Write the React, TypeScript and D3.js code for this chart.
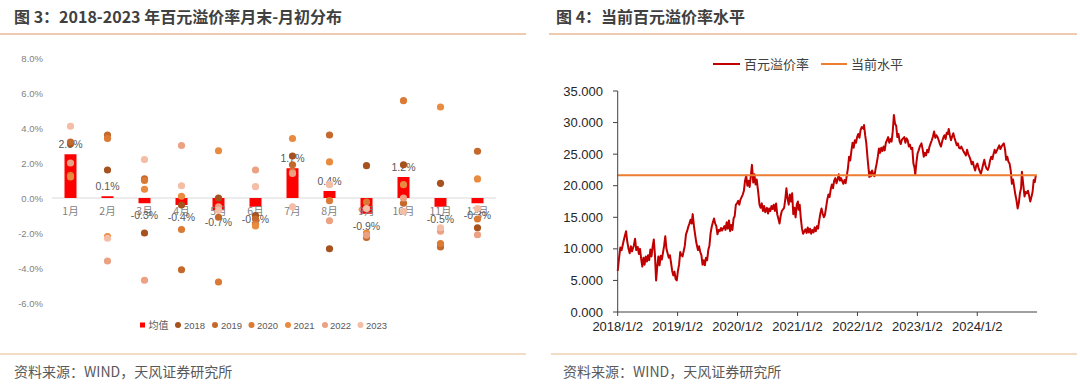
import React from "react";
import * as d3 from "d3";

// ---------- Left chart data ----------
const months = ["1月", "2月", "3月", "4月", "5月", "6月", "7月", "8月", "9月", "10月", "11月", "12月"];
const meanValues = [2.5, 0.1, -0.3, -0.4, -0.7, -0.5, 1.7, 0.4, -0.9, 1.2, -0.5, -0.3];
const years = ["2018", "2019", "2020", "2021", "2022", "2023"];
const y2018 = [3.1, 1.6, -2.0, -0.4, 0.0, -1.0, 2.4, -2.9, 1.85, 1.9, 0.84, -1.7];
const y2019 = [3.2, 3.6, 1.1, -4.1, -1.1, -1.2, 1.9, 3.6, -2.25, -0.3, -2.8, 2.67];
const y2020 = [1.3, 3.4, 1.0, -1.8, -4.8, -1.5, 1.5, -0.15, -0.23, 5.56, -2.6, -1.2];
const y2021 = [1.2, -2.2, 0.5, 0.1, 2.7, -1.6, 3.4, 2.06, -2.0, 0.76, 5.2, 1.09];
const y2022 = [2.0, -3.6, -4.7, 3.0, -0.5, 1.6, 1.4, -1.3, -2.13, 0.0, -1.9, -2.1];
const y2023 = [4.1, -2.3, 2.2, 0.7, -0.7, 0.65, -0.5, 0.76, -0.6, -0.76, -1.7, -0.6];
const yearSeries = [y2018, y2019, y2020, y2021, y2022, y2023];
const yearColors = ["#A5521F", "#C4682C", "#DB7A35", "#E98B3F", "#EBA182", "#F3BDA6"];
const leftTicks = [8, 6, 4, 2, 0, -2, -4, -6];

// ---------- Right chart data ----------
const premiumDates = [
  "2018-01-02","2018-01-10","2018-01-18","2018-01-26","2018-02-05","2018-02-12","2018-02-22","2018-03-01","2018-03-09","2018-03-16","2018-03-23","2018-03-30",
  "2018-04-10","2018-04-18","2018-04-25","2018-05-04","2018-05-11","2018-05-18","2018-05-25","2018-06-01","2018-06-08","2018-06-15","2018-06-22","2018-06-29",
  "2018-07-06","2018-07-13","2018-07-20","2018-07-27","2018-08-03","2018-08-10","2018-08-17","2018-08-24","2018-08-31","2018-09-07","2018-09-14","2018-09-21","2018-09-28",
  "2018-10-12","2018-10-19","2018-10-26","2018-11-02","2018-11-09","2018-11-16","2018-11-23","2018-11-30","2018-12-07","2018-12-14","2018-12-21","2018-12-28",
  "2019-01-04","2019-01-11","2019-01-18","2019-01-25","2019-02-01","2019-02-15","2019-02-22","2019-03-01","2019-03-08","2019-03-15","2019-03-22","2019-03-29",
  "2019-04-04","2019-04-12","2019-04-19","2019-04-26","2019-05-06","2019-05-13","2019-05-20","2019-05-27","2019-06-03","2019-06-10","2019-06-17","2019-06-24",
  "2019-07-01","2019-07-08","2019-07-15","2019-07-22","2019-07-29","2019-08-05","2019-08-12","2019-08-19","2019-08-26","2019-09-02","2019-09-09","2019-09-16","2019-09-23","2019-09-30",
  "2019-10-14","2019-10-21","2019-10-28","2019-11-04","2019-11-11","2019-11-18","2019-11-25","2019-12-02","2019-12-09","2019-12-16","2019-12-23","2019-12-30",
  "2020-01-06","2020-01-13","2020-01-20","2020-02-03","2020-02-10","2020-02-17","2020-02-24","2020-03-02","2020-03-09","2020-03-16","2020-03-23","2020-03-30",
  "2020-04-07","2020-04-14","2020-04-21","2020-04-28","2020-05-08","2020-05-15","2020-05-22","2020-05-29","2020-06-05","2020-06-12","2020-06-19","2020-06-29",
  "2020-07-06","2020-07-13","2020-07-20","2020-07-27","2020-08-03","2020-08-10","2020-08-17","2020-08-24","2020-08-31","2020-09-07","2020-09-14","2020-09-21","2020-09-28",
  "2020-10-12","2020-10-19","2020-10-26","2020-11-02","2020-11-09","2020-11-16","2020-11-23","2020-11-30","2020-12-07","2020-12-14","2020-12-21","2020-12-28",
  "2021-01-04","2021-01-08","2021-01-15","2021-01-22","2021-01-29","2021-02-05","2021-02-19","2021-02-26","2021-03-05","2021-03-12","2021-03-19","2021-03-26",
  "2021-04-02","2021-04-09","2021-04-16","2021-04-23","2021-04-30","2021-05-07","2021-05-14","2021-05-21","2021-05-28","2021-06-04","2021-06-11","2021-06-18","2021-06-25",
  "2021-07-02","2021-07-09","2021-07-16","2021-07-23","2021-07-30","2021-08-06","2021-08-13","2021-08-20","2021-08-27","2021-09-03","2021-09-10","2021-09-17","2021-09-24",
  "2021-10-08","2021-10-15","2021-10-22","2021-10-29","2021-11-05","2021-11-12","2021-11-19","2021-11-26","2021-12-03","2021-12-10","2021-12-17","2021-12-24","2021-12-31",
  "2022-01-07","2022-01-14","2022-01-21","2022-01-28","2022-02-08","2022-02-11","2022-02-18","2022-02-25","2022-03-04","2022-03-11","2022-03-15","2022-03-18","2022-03-25",
  "2022-04-01","2022-04-08","2022-04-15","2022-04-22","2022-04-29","2022-05-06","2022-05-13","2022-05-20","2022-05-27","2022-06-03","2022-06-10","2022-06-17","2022-06-24",
  "2022-07-01","2022-07-08","2022-07-15","2022-07-22","2022-07-29","2022-08-05","2022-08-12","2022-08-19","2022-08-26","2022-09-02","2022-09-09","2022-09-16","2022-09-23","2022-09-30",
  "2022-10-14","2022-10-21","2022-10-28","2022-11-04","2022-11-11","2022-11-18","2022-11-25","2022-12-02","2022-12-09","2022-12-16","2022-12-20","2022-12-27",
  "2023-01-03","2023-01-10","2023-01-17","2023-01-27","2023-02-03","2023-02-10","2023-02-17","2023-02-24","2023-03-03","2023-03-10","2023-03-17","2023-03-24","2023-03-31",
  "2023-04-07","2023-04-14","2023-04-21","2023-04-28","2023-05-05","2023-05-12","2023-05-19","2023-05-26","2023-06-02","2023-06-09","2023-06-16","2023-06-23","2023-06-30",
  "2023-07-07","2023-07-12","2023-07-19","2023-07-26","2023-08-02","2023-08-09","2023-08-16","2023-08-23","2023-08-30","2023-09-06","2023-09-13","2023-09-20","2023-09-27",
  "2023-10-11","2023-10-18","2023-10-25","2023-11-01","2023-11-08","2023-11-15","2023-11-22","2023-11-29","2023-12-06","2023-12-13","2023-12-20","2023-12-27",
  "2024-01-03","2024-01-10","2024-01-17","2024-01-24","2024-01-31","2024-02-07","2024-02-14","2024-02-21","2024-02-28","2024-03-06","2024-03-13","2024-03-20","2024-03-27",
  "2024-04-03","2024-04-10","2024-04-17","2024-04-24","2024-05-01","2024-05-08","2024-05-15","2024-05-22","2024-05-29","2024-06-05","2024-06-12","2024-06-19","2024-06-26",
  "2024-07-03","2024-07-10","2024-07-17","2024-07-24","2024-07-31","2024-08-07","2024-08-14","2024-08-21","2024-08-28","2024-09-04","2024-09-11","2024-09-18","2024-09-25","2024-09-30",
  "2024-10-09","2024-10-16","2024-10-23","2024-10-30","2024-11-06","2024-11-13","2024-11-20","2024-11-27","2024-12-04","2024-12-11","2024-12-18","2024-12-24"
];
const premiumValues = [
  6.5,8.5,10.2,9.8,11.0,11.8,12.8,11.2,10.0,9.3,10.4,9.6,
  10.5,11.6,9.8,10.3,9.2,10.0,8.4,7.2,8.6,7.5,8.8,8.0,
  9.0,8.2,9.9,8.8,10.4,11.5,9.0,5.0,7.2,8.8,7.4,8.9,8.3,
  10.5,12.0,10.0,9.3,8.6,9.0,7.8,6.5,5.8,6.4,5.2,5.0,
  6.5,7.5,9.5,9.0,8.8,10.5,12.3,12.8,13.5,14.0,14.6,14.0,
  15.5,13.5,12.2,11.0,9.8,10.4,9.5,9.0,7.5,8.2,7.4,8.6,
  8.2,9.8,10.5,12.5,13.5,14.2,14.8,14.0,13.6,12.3,13.0,12.8,13.3,12.9,
  13.6,13.0,14.2,13.2,14.5,12.8,13.8,13.0,14.8,15.2,17.0,17.2,
  17.6,17.0,17.8,18.6,19.2,20.8,21.6,20.0,20.8,19.8,21.5,23.3,
  20.5,21.8,20.2,21.0,18.8,17.0,16.5,17.2,16.0,16.8,15.8,16.5,
  15.6,16.4,16.0,16.8,16.3,17.0,16.0,17.2,15.5,14.8,14.0,15.2,16.0,
  16.5,17.8,19.6,18.0,17.0,18.6,17.5,18.8,15.5,16.5,15.0,17.0,
  17.5,16.2,17.0,14.8,13.2,12.4,13.1,12.5,13.4,12.6,13.2,12.4,
  13.0,12.6,13.4,12.8,13.6,13.2,14.5,15.6,16.4,15.6,15.0,15.4,16.6,
  17.8,18.6,18.2,19.4,20.2,19.6,20.8,21.2,20.4,21.0,21.8,20.8,21.2,
  20.3,20.9,20.4,21.6,22.8,24.6,24.0,25.5,26.8,26.0,27.2,26.8,27.7,
  28.2,27.6,28.8,29.3,29.0,29.6,28.0,26.7,24.5,22.6,21.4,22.2,21.5,
  22.4,21.8,21.5,22.6,23.5,24.6,25.9,25.2,26.0,25.5,26.2,25.6,26.8,
  27.2,27.7,26.8,27.4,27.0,28.6,31.2,29.8,29.5,27.7,28.2,27.0,26.6,27.3,
  27.7,26.8,27.5,27.2,26.2,26.5,25.8,26.0,23.5,22.8,21.7,23.6,
  25.1,25.6,26.2,26.7,25.8,24.6,25.2,24.8,25.7,25.3,26.2,26.7,27.2,
  27.8,28.6,27.6,28.0,27.7,27.2,26.6,26.2,27.0,27.6,28.0,27.4,28.4,
  28.2,29.0,28.0,27.2,27.8,28.3,27.6,27.0,26.4,26.7,26.0,25.9,26.2,
  25.4,25.1,24.8,25.7,25.0,24.6,24.1,23.4,23.8,23.0,22.4,23.2,
  23.5,22.8,22.3,21.9,22.6,23.4,24.1,23.2,22.7,22.5,23.0,24.0,24.6,
  24.2,25.0,25.7,25.2,25.6,26.0,26.4,25.8,26.2,26.5,26.7,25.8,24.1,
  24.6,23.8,23.5,22.4,20.3,21.0,19.8,18.6,17.7,16.4,17.2,18.8,19.6,22.2,
  20.0,18.3,19.0,18.8,19.2,18.4,17.5,18.2,19.0,20.9,20.6,21.7
];
const currentLevel = 21.65;
const rightYTicks = [0, 5, 10, 15, 20, 25, 30, 35];
const rightXTickDates = ["2018-01-02", "2019-01-02", "2020-01-02", "2021-01-02", "2022-01-02", "2023-01-02", "2024-01-02"];
const rightXTickLabels = ["2018/1/2", "2019/1/2", "2020/1/2", "2021/1/2", "2022/1/2", "2023/1/2", "2024/1/2"];

const CJK = "'Noto Sans CJK SC', 'Noto Sans', sans-serif";
const LAT = "'Liberation Sans', Arial, sans-serif";

export default function App() {
  // Left chart scales
  const xL = d3.scaleBand<string>().domain(months).range([52, 496]).paddingInner(0);
  const yL = d3.scaleLinear().domain([-6, 8]).range([303, 58]);
  const barW = 12;
  const fmtPct = (v: number) => v.toFixed(1) + "%";

  // Right chart scales
  const parse = d3.timeParse("%Y-%m-%d");
  const xR = d3.scaleTime().domain([parse("2018-01-02")!, parse("2024-12-31")!]).range([617.7, 1037]);
  const yR = d3.scaleLinear().domain([0, 35]).range([312, 91]);
  const pts: [Date, number][] = premiumDates.map((d, i) => [parse(d)!, premiumValues[i]]);
  const line = d3.line<[Date, number]>().x((d) => xR(d[0])).y((d) => yR(d[1]));

  const legendItemsLeft = [
    { label: "2018", cx: 178, tx: 184 },
    { label: "2019", cx: 215, tx: 221 },
    { label: "2020", cx: 251.5, tx: 257 },
    { label: "2021", cx: 288, tx: 293.5 },
    { label: "2022", cx: 325, tx: 330 },
    { label: "2023", cx: 360.5, tx: 366 },
  ];

  return (
    <svg width={1080} height={390} style={{ position: "absolute", left: 0, top: 0, background: "#fff" }}>
      <rect x={0} y={0} width={1080} height={390} fill="#fff" />
      {/* Titles */}
      <text x={14} y={23} fontFamily={CJK} fontSize={16} fontWeight="bold" fill="#404040">图 3：2018-2023 年百元溢价率月末-月初分布</text>
      <text x={556} y={23} fontFamily={CJK} fontSize={16} fontWeight="bold" fill="#404040">图 4：当前百元溢价率水平</text>
      <line x1={0} x2={526} y1={34} y2={34} stroke="#E8B896" strokeWidth={1.5} />
      <line x1={549} x2={1077} y1={34} y2={34} stroke="#E8B896" strokeWidth={1.5} />
      {/* Footer */}
      <line x1={0} x2={526} y1={354} y2={354} stroke="#F2DCC6" strokeWidth={2} />
      <line x1={551} x2={1077} y1={354} y2={354} stroke="#F2DCC6" strokeWidth={2} />
      <text x={14} y={377} fontFamily={CJK} fontSize={14} fill="#595959">资料来源：WIND，天风证券研究所</text>
      <text x={563} y={377} fontFamily={CJK} fontSize={14} fill="#595959">资料来源：WIND，天风证券研究所</text>

      {/* ---------- Left chart ---------- */}
      {leftTicks.map((t) => (
        <text key={t} x={43} y={yL(t) + 3.5} textAnchor="end" fontFamily={LAT} fontSize={9.5} fill="#7F7F7F">{fmtPct(t)}</text>
      ))}
      <line x1={52} x2={496} y1={yL(0)} y2={yL(0)} stroke="#D9D9D9" strokeWidth={1} />
      {months.map((m, i) => {
        const cx = xL(m)! + xL.bandwidth() / 2;
        const v = meanValues[i];
        const y0 = yL(0), y1 = yL(v);
        return (
          <rect key={m} x={cx - barW / 2} y={Math.min(y0, y1)} width={barW} height={Math.max(1.2, Math.abs(y1 - y0))} fill="#FF0000" />
        );
      })}
      {months.map((m, i) => {
        const cx = xL(m)! + xL.bandwidth() / 2;
        return (
          <text key={"m" + m} x={cx} y={yL(0) + 17} textAnchor="middle" fontFamily={CJK} fontSize={10.5} fill="#7F7F7F">{m}</text>
        );
      })}
      {months.map((m, i) => {
        const cx = xL(m)! + xL.bandwidth() / 2;
        const v = meanValues[i];
        const y = v >= 0 ? yL(v) - 6 : yL(v) + 16;
        return (
          <text key={"l" + m} x={cx} y={y} textAnchor="middle" fontFamily={LAT} fontSize={10.5} fill="#595959">{fmtPct(v)}</text>
        );
      })}
      {yearSeries.map((ser, si) =>
        ser.map((v, i) => {
          const cx = xL(months[i])! + xL.bandwidth() / 2;
          return <circle key={si + "-" + i} cx={cx} cy={yL(v)} r={3.6} fill={yearColors[si]} />;
        })
      )}
      {/* Left legend */}
      <rect x={140} y={322.5} width={5} height={5} fill="#FF0000" />
      <text x={148.5} y={329} fontFamily={CJK} fontSize={10} fill="#595959">均值</text>
      {legendItemsLeft.map((it, i) => (
        <g key={it.label}>
          <circle cx={it.cx} cy={325} r={3} fill={yearColors[i]} />
          <text x={it.tx} y={328.5} fontFamily={LAT} fontSize={9.5} fill="#595959">{years[i]}</text>
        </g>
      ))}

      {/* ---------- Right chart ---------- */}
      <line x1={713} x2={740} y1={64} y2={64} stroke="#C00000" strokeWidth={2} />
      <text x={744} y={69} fontFamily={CJK} fontSize={13} fill="#404040">百元溢价率</text>
      <line x1={821} x2={847} y1={64} y2={64} stroke="#ED7D31" strokeWidth={2} />
      <text x={851} y={69} fontFamily={CJK} fontSize={13} fill="#404040">当前水平</text>

      {rightYTicks.map((t) => (
        <g key={t}>
          <line x1={613} x2={617.7} y1={yR(t)} y2={yR(t)} stroke="#404040" />
          <text x={603} y={yR(t) + 4.5} textAnchor="end" fontFamily={LAT} fontSize={13} fill="#262626">{t.toFixed(3)}</text>
        </g>
      ))}
      {rightXTickDates.map((d, i) => (
        <g key={d}>
          <line x1={xR(parse(d)!)} x2={xR(parse(d)!)} y1={312} y2={316} stroke="#404040" />
          <text x={xR(parse(d)!)} y={331} textAnchor="middle" fontFamily={LAT} fontSize={13} fill="#262626">{rightXTickLabels[i]}</text>
        </g>
      ))}
      <path d={line(pts) || ""} fill="none" stroke="#C00000" strokeWidth={2} strokeLinejoin="round" />
      <line x1={617.7} x2={1037} y1={yR(currentLevel)} y2={yR(currentLevel)} stroke="#ED7D31" strokeWidth={2} />
      <line x1={617.7} x2={617.7} y1={91} y2={312} stroke="#404040" strokeWidth={1} />
      <line x1={617.7} x2={1037} y1={312} y2={312} stroke="#404040" strokeWidth={1} />
    </svg>
  );
}
